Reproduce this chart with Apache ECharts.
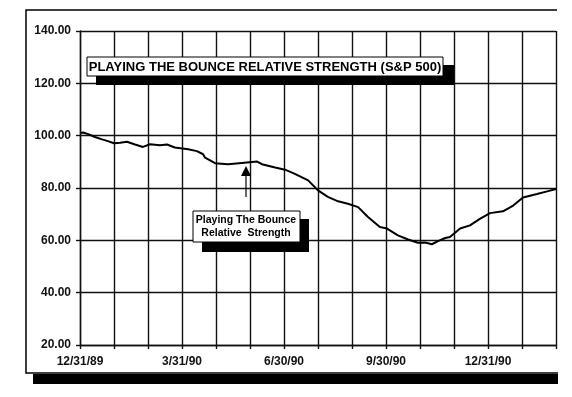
<!DOCTYPE html>
<html>
<head>
<meta charset="utf-8">
<script src="https://cdn.jsdelivr.net/npm/echarts@6/dist/echarts.min.js"></script>
<style>
  html, body { margin: 0; padding: 0; background: #fff; }
  #main { width: 572px; height: 397px; }
</style>
</head>
<body>
<div id="main"></div>
<script>
// months after 12/31/89 (grid line every month)
var monthPos = [0.03, 0.09, 0.24, 0.44, 0.65, 0.82, 1.00, 1.18, 1.38, 1.62, 1.85, 2.06, 2.35, 2.56, 2.79,
  3.18, 3.44, 3.62, 3.68, 3.97, 4.35, 4.76, 5.21, 5.35, 5.74, 6.03, 6.32, 6.71, 7.00, 7.29, 7.59,
  7.88, 8.18, 8.47, 8.82, 9.03, 9.35, 9.65, 9.94, 10.15, 10.35, 10.53, 10.74, 10.88, 11.18, 11.47,
  11.76, 12.06, 12.44, 12.74, 13.03, 13.44, 13.74, 14.00];
var rsValues = [101.0, 101.2, 100.6, 99.5, 98.6, 97.9, 97.1, 97.3, 97.7, 96.6, 95.7, 96.7, 96.3, 96.6, 95.5,
  94.8, 94.1, 92.9, 91.6, 89.5, 89.1, 89.6, 90.1, 89.1, 87.8, 87.0, 85.4, 82.9, 79.1, 76.6, 74.9,
  74.0, 72.7, 68.9, 65.1, 64.5, 61.9, 60.3, 59.1, 59.2, 58.5, 59.7, 60.9, 61.3, 64.5, 65.7,
  68.2, 70.4, 71.1, 73.3, 76.4, 77.7, 78.7, 79.6];
var dateLabels = { 0: '12/31/89', 3: '3/31/90', 6: '6/30/90', 9: '9/30/90', 12: '12/31/90' };
var yTicks = [20, 40, 60, 80, 100, 120, 140];

var chartTitle = 'PLAYING THE BOUNCE RELATIVE STRENGTH (S&P 500)';
var noteText = 'Playing The Bounce\nRelative  Strength';

var seriesData = monthPos.map(function (m, i) { return [m, rsValues[i]]; });

var myChart = echarts.init(document.getElementById('main'));

var gridStyle = { color: '#111', width: 1.4 };
var option = {
  backgroundColor: '#fff',
  animation: false,
  grid: { left: 80, top: 31, right: 16, bottom: 52 },
  xAxis: {
    type: 'value',
    min: 0,
    max: 14,
    interval: 1,
    axisLine: { show: true, lineStyle: gridStyle },
    axisTick: { show: true, length: 4, lineStyle: gridStyle },
    splitLine: { show: true, lineStyle: gridStyle },
    axisLabel: {
      margin: 11,
      color: '#111',
      fontFamily: 'Liberation Sans, Arial, sans-serif',
      fontWeight: 'bold',
      fontSize: 12,
      formatter: function (v) { return dateLabels[v] || ''; }
    }
  },
  yAxis: {
    type: 'value',
    min: yTicks[0],
    max: yTicks[yTicks.length - 1],
    interval: 20,
    axisLine: { show: true, lineStyle: gridStyle },
    axisTick: { show: true, length: 4, lineStyle: gridStyle },
    splitLine: { show: true, lineStyle: gridStyle },
    axisLabel: {
      margin: 9,
      color: '#111',
      fontFamily: 'Liberation Sans, Arial, sans-serif',
      fontWeight: 'bold',
      fontSize: 12,
      formatter: function (v) { return v.toFixed(2); }
    }
  },
  series: [{
    type: 'line',
    data: seriesData,
    showSymbol: false,
    lineStyle: { color: '#000', width: 2 },
    z: 5
  }],
  graphic: [
    // outer frame + shadow
    { type: 'rect', shape: { x: 33, y: 374, width: 525, height: 10 }, style: { fill: '#000' }, z: 100 },
    { type: 'polyline', shape: { points: [[557, 10], [26, 10], [26, 373], [558, 373]] },
      style: { stroke: '#000', lineWidth: 1.5, fill: null }, z: 100 },
    // title box
    { type: 'rect', shape: { x: 96, y: 65, width: 358, height: 20 }, style: { fill: '#000' }, z: 100 },
    { type: 'rect', shape: { x: 87, y: 57, width: 356, height: 19 },
      style: { fill: '#fff', stroke: '#000', lineWidth: 1 }, z: 101 },
    { type: 'text', x: 265, y: 67, z: 102,
      style: { text: chartTitle, align: 'center', verticalAlign: 'middle', fill: '#000',
        font: 'bold 13px "Liberation Sans", Arial, sans-serif' } },
    // note box
    { type: 'rect', shape: { x: 202, y: 219, width: 107, height: 33 }, style: { fill: '#000' }, z: 100 },
    { type: 'rect', shape: { x: 193, y: 211, width: 107, height: 31 },
      style: { fill: '#fff', stroke: '#000', lineWidth: 1 }, z: 101 },
    { type: 'text', x: 246, y: 227, z: 102,
      style: { text: noteText, align: 'center', verticalAlign: 'middle', fill: '#000', lineHeight: 13,
        font: 'bold 10.5px "Liberation Sans", Arial, sans-serif' } },
    // arrow
    { type: 'line', shape: { x1: 246, y1: 197, x2: 246, y2: 175 }, style: { stroke: '#000', lineWidth: 1.2 }, z: 100 },
    { type: 'polygon', shape: { points: [[241, 176], [251, 176], [246, 166]] }, style: { fill: '#000' }, z: 100 }
  ]
};

myChart.setOption(option);
</script>
</body>
</html>
